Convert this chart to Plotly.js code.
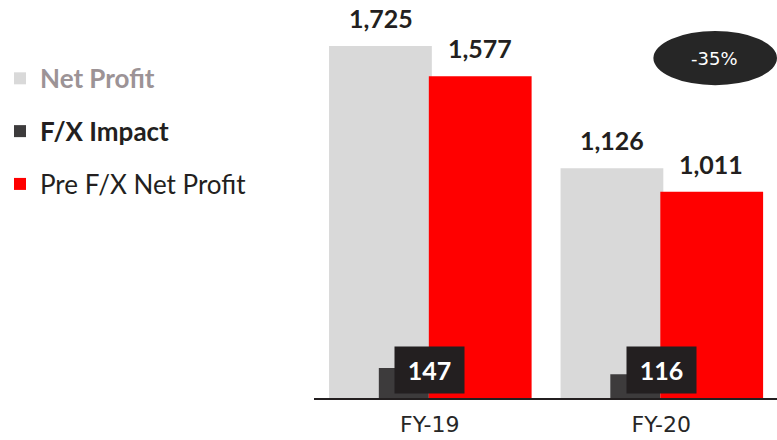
<!DOCTYPE html>
<html><head><meta charset="utf-8">
<script src="https://cdn.plot.ly/plotly-3.0.1.min.js"></script>
<style>body{margin:0;background:#fff}#chart{width:777px;height:440px}</style>
</head><body><div id="chart"></div>
<script>
const categories = ["FY-19", "FY-20"];
const netProfit = [1725, 1126];
const fxImpact = [147, 116];
const preFxNetProfit = [1577, 1011];
const seriesNames = ["Net Profit", "F/X Impact", "Pre F/X Net Profit"];
const changeLabel = "-35%";

const fmt = v => v.toLocaleString("en-US");
const dark = "#231f20";

const traces = [
  {type: "bar", x: categories, y: netProfit, name: '<span style="color:#9c9396"><b>' + seriesNames[0] + '</b></span>',
   marker: {color: "#d9d9d9"}, offset: -0.435, width: 0.444, hoverinfo: "y", legendgroup: "a"},
  {type: "bar", x: categories, y: fxImpact, name: '<b>' + seriesNames[1] + '</b>',
   marker: {color: "#3d3b3c"}, offset: -0.22, width: 0.216, hoverinfo: "y", legendgroup: "b"},
  {type: "bar", x: categories, y: preFxNetProfit, name: seriesNames[2],
   marker: {color: "#ff0000"}, offset: -0.004, width: 0.444, hoverinfo: "y", legendgroup: "c"}
];

const annotations = [];
categories.forEach((c, i) => {
  annotations.push({x: c, y: netProfit[i], xshift: -49, yshift: 11, yanchor: "bottom", showarrow: false,
    text: "<b>" + fmt(netProfit[i]) + "</b>", font: {family: "Lato", size: 25, color: dark}});
  annotations.push({x: c, y: preFxNetProfit[i], xshift: 50, yshift: 11, yanchor: "bottom", showarrow: false,
    text: "<b>" + fmt(preFxNetProfit[i]) + "</b>", font: {family: "Lato", size: 25, color: dark}});
  annotations.push({x: c, y: 137, yanchor: "middle", showarrow: false, width: 67, height: 44,
    bgcolor: dark, text: "<b>" + fmt(fxImpact[i]) + "</b>", font: {family: "Lato", size: 25, color: "#ffffff"}});
});
annotations.push({xref: "paper", yref: "paper", x: 0.866, y: 0.854, xanchor: "center", yanchor: "middle", showarrow: false,
  text: changeLabel, font: {family: "DejaVu Sans", size: 18, color: "#ffffff"}});

const layout = {
  width: 777, height: 440,
  margin: {l: 313, r: 0, t: 0, b: 42},
  paper_bgcolor: "#ffffff", plot_bgcolor: "#ffffff",
  barmode: "overlay",
  showlegend: true,
  legend: {x: -0.677, y: 0.862, xanchor: "left", yanchor: "top", tracegroupgap: 16, traceorder: "grouped",
    font: {family: "Lato", size: 26, color: dark}},
  xaxis: {type: "category", range: [-0.5, 1.5], showline: true, linecolor: dark, linewidth: 1.5,
    ticks: "", showgrid: false, zeroline: false, ticklabelstandoff: 6,
    tickfont: {family: "DejaVu Sans", size: 22, color: "#262626"}},
  yaxis: {range: [0, 1950], visible: false, showgrid: false, zeroline: false},
  shapes: [{type: "circle", xref: "paper", yref: "paper", x0: 0.733, x1: 1.0, y0: 0.786, y1: 0.922,
    fillcolor: "#262626", line: {width: 0}, layer: "above"}],
  annotations: annotations
};

Plotly.newPlot("chart", traces, layout, {displayModeBar: false, staticPlot: true});
</script></body></html>
